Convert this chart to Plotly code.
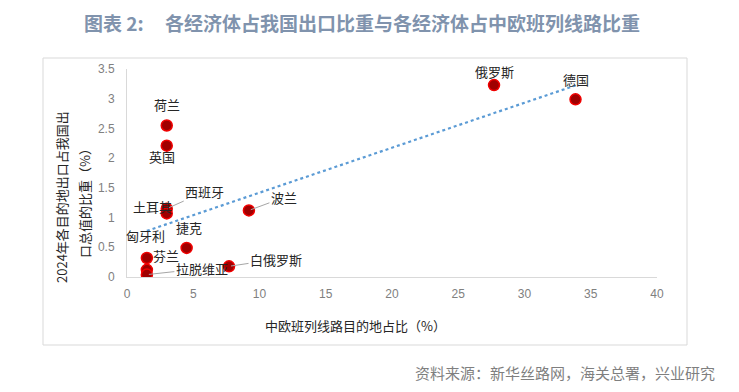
import numpy as np
import plotly.graph_objects as go

# ---- data ----
countries = ["荷兰", "英国", "西班牙", "土耳其", "波兰", "捷克", "匈牙利", "芬兰", "拉脱维亚", "白俄罗斯", "俄罗斯", "德国"]
rail_share = [3.0, 3.0, 3.0, 3.0, 9.2, 4.5, 1.5, 1.5, 1.5, 7.7, 27.7, 33.85]      # 中欧班列线路目的地占比 (%)
export_share = [2.55, 2.21, 1.15, 1.07, 1.12, 0.49, 0.32, 0.12, 0.04, 0.18, 3.23, 2.99]  # 出口占比 (%)
x_ticks = [0, 5, 10, 15, 20, 25, 30, 35, 40]
y_ticks = [0, 0.5, 1, 1.5, 2, 2.5, 3, 3.5]
y_tick_text = ["0", "0.5", "1", "1.5", "2", "2.5", "3", "3.5"]

title_head = "图表 2:"
title_text = "各经济体占我国出口比重与各经济体占中欧班列线路比重"
x_title = "中欧班列线路目的地占比（%）"
y_title_1 = "2024年各目的地出口占我国出"
y_title_2 = "口总值的比重（%）"
source_text = "资料来源：新华丝路网，海关总署，兴业研究"

# label placement (pixels): (dx, dy_up, leader)
label_pos = {
    "荷兰": (0, 21, False),
    "英国": (-5, -11, False),
    "西班牙": (38, 17, True),
    "土耳其": (-14, 7, False),
    "波兰": (35, 13, True),
    "捷克": (2, 20, False),
    "匈牙利": (-1, 22, False),
    "芬兰": (19, 14, False),
    "拉脱维亚": (55, 6, True),
    "白俄罗斯": (47, 7, True),
    "俄罗斯": (0, 14, False),
    "德国": (0, 20, False),
}

FONT = "Noto Sans CJK SC"

# linear trendline from the data (least squares)
xa = np.array(rail_share)
ya = np.array(export_share)
slope, intercept = np.polyfit(xa, ya, 1)
tx = [xa.min(), xa.max()]
ty = [slope * v + intercept for v in tx]

fig = go.Figure()
fig.add_trace(go.Scatter(
    x=tx, y=ty, mode="lines",
    line=dict(color="#5B9BD5", width=2.2, dash="dot"),
    hoverinfo="skip", showlegend=False,
))
fig.add_trace(go.Scatter(
    x=rail_share, y=export_share, mode="markers",
    marker=dict(size=11, color="#A00000", line=dict(color="#F00000", width=1.5)),
    showlegend=False,
))

annotations = []
for name, xv, yv in zip(countries, rail_share, export_share):
    dx, dy, leader = label_pos[name]
    if leader:
        annotations.append(dict(
            x=xv, y=yv, xref="x", yref="y", text=name,
            showarrow=True, ax=dx, ay=-dy, arrowhead=0, arrowwidth=1,
            arrowcolor="#A6A6A6", standoff=2, startstandoff=0,
            font=dict(family=FONT, size=13, color="#262626"),
        ))
    else:
        annotations.append(dict(
            x=xv, y=yv, xref="x", yref="y", text=name, showarrow=False,
            xshift=dx, yshift=dy, xanchor="center", yanchor="middle",
            font=dict(family=FONT, size=13, color="#262626"),
        ))

# page offset of the default body margin
OFF = 8
# plot area in reference px
L, R, T, B = 127, 657, 69, 277
W, H = 739, 392
pw, ph = R - L, B - T

def px(xp):
    return (xp - L) / pw

def py(yp):
    return (B - yp) / ph

annotations += [
    dict(x=px(61), y=py(197), xref="paper", yref="paper", text=y_title_1, textangle=-90,
         showarrow=False, xanchor="center", yanchor="middle",
         font=dict(family=FONT, size=13, color="#262626")),
    dict(x=px(84), y=py(200), xref="paper", yref="paper", text=y_title_2, textangle=-90,
         showarrow=False, xanchor="center", yanchor="middle",
         font=dict(family=FONT, size=13, color="#262626")),
    dict(x=px(355), y=py(325), xref="paper", yref="paper", text=x_title,
         showarrow=False, xanchor="center", yanchor="middle",
         font=dict(family=FONT, size=13, color="#262626")),
    dict(x=px(82), y=py(23), xref="paper", yref="paper", text="<b>" + title_head + "</b>",
         showarrow=False, xanchor="left", yanchor="middle",
         font=dict(family=FONT, size=19, color="#8093AD")),
    dict(x=px(163), y=py(23), xref="paper", yref="paper", text="<b>" + title_text + "</b>",
         showarrow=False, xanchor="left", yanchor="middle",
         font=dict(family=FONT, size=19, color="#8093AD")),
    dict(x=px(717), y=py(372), xref="paper", yref="paper", text=source_text,
         showarrow=False, xanchor="right", yanchor="middle",
         font=dict(family=FONT, size=15, color="#7F7F7F")),
]

shapes = [
    dict(type="rect", xref="paper", yref="paper",
         x0=px(43), x1=px(687), y0=py(345), y1=py(58),
         line=dict(color="#D9D9D9", width=1), fillcolor="rgba(0,0,0,0)", layer="below"),
]

fig.update_layout(
    width=W - OFF, height=H - OFF,
    margin=dict(l=L - OFF, r=W - R, t=T - OFF, b=H - B),
    paper_bgcolor="white", plot_bgcolor="white",
    font=dict(family=FONT),
    annotations=annotations, shapes=shapes,
    xaxis=dict(range=[0, 40], tickvals=x_ticks, showgrid=False, zeroline=False,
               showline=True, linecolor="#D9D9D9", linewidth=1, ticks="",
               ticklabelstandoff=6,
               tickfont=dict(family="Liberation Sans", size=12, color="#808080")),
    yaxis=dict(range=[0, 3.5], tickvals=y_ticks, ticktext=y_tick_text, showgrid=False,
               zeroline=False, showline=True, linecolor="#D9D9D9", linewidth=1, ticks="",
               ticklabelstandoff=9,
               tickfont=dict(family="Liberation Sans", size=12, color="#808080")),
)

fig.write_html("out.html")
